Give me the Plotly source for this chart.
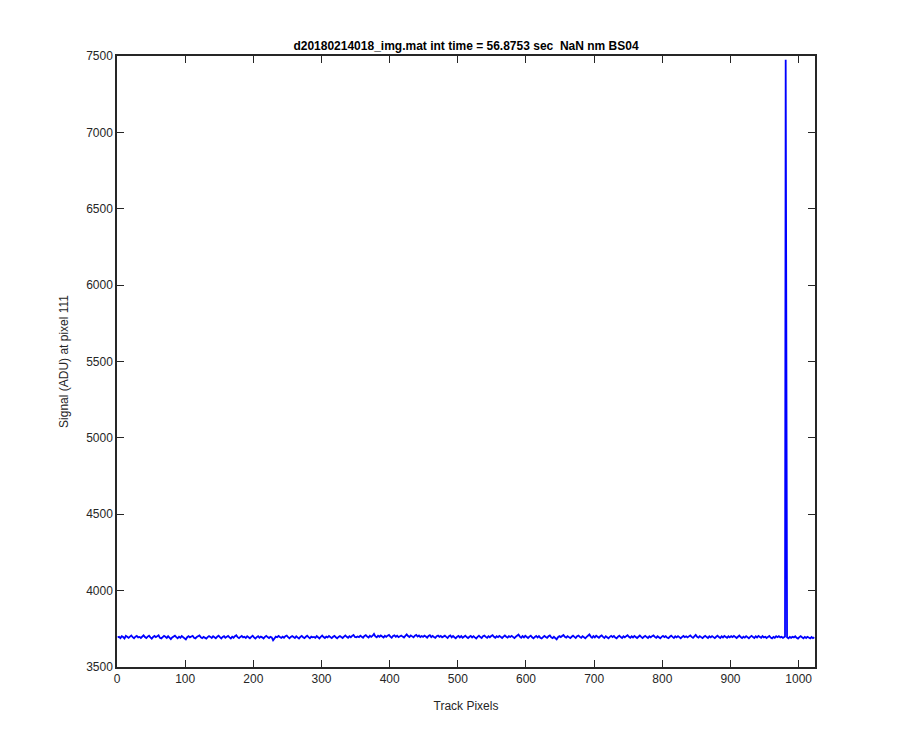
import plotly.graph_objects as go

title_text = "d20180214018_img.mat int time = 56.8753 sec  NaN nm BS04"
x_label = "Track Pixels"
y_label = "Signal (ADU) at pixel 111"

# track pixel positions (every other pixel, full resolution around the spike)
track_pixels = list(range(1, 979, 2)) + [979, 980, 981, 982, 983] + list(range(985, 1024, 2))

signal_adu = [
    3694,3698,3689,3702,3696,3687,3704,3697,3691,3699,3706,3695,3688,3698,3703,3694,
    3697,3690,3700,3707,3696,3689,3699,3705,3694,3686,3697,3703,3695,3699,3708,3691,
    3687,3696,3704,3698,3690,3702,3695,3683,3694,3699,3705,3696,3688,3698,3691,3703,
    3697,3689,3681,3695,3702,3694,3698,3704,3691,3687,3696,3699,3706,3695,3689,3697,
    3691,3686,3696,3703,3697,3690,3701,3694,3688,3698,3705,3695,3687,3697,3702,3691,
    3696,3704,3694,3687,3698,3691,3702,3708,3695,3689,3697,3703,3694,3698,3690,3701,
    3695,3688,3697,3705,3694,3686,3696,3702,3691,3699,3694,3687,3697,3704,3696,3689,
    3698,3694,3675,3688,3699,3695,3703,3696,3690,3698,3691,3702,3706,3695,3688,3697,
    3703,3696,3690,3701,3694,3686,3697,3704,3695,3689,3698,3705,3696,3688,3699,3694,
    3697,3691,3702,3695,3687,3698,3706,3696,3690,3699,3694,3703,3697,3689,3698,3704,
    3695,3688,3697,3703,3696,3690,3699,3707,3698,3691,3702,3695,3704,3710,3697,3694,
    3700,3696,3705,3698,3692,3703,3708,3699,3693,3704,3697,3705,3717,3700,3694,3705,
    3698,3706,3699,3693,3704,3697,3705,3710,3699,3692,3703,3707,3698,3705,3695,3702,
    3706,3699,3693,3704,3714,3703,3696,3707,3700,3694,3705,3710,3699,3706,3696,3703,
    3697,3705,3699,3692,3703,3708,3696,3704,3697,3691,3702,3706,3697,3703,3694,3699,
    3705,3697,3690,3701,3706,3694,3703,3695,3688,3698,3704,3694,3702,3692,3698,3705,
    3696,3689,3698,3704,3693,3702,3694,3687,3697,3705,3696,3690,3701,3706,3697,3691,
    3702,3695,3703,3708,3698,3691,3701,3695,3704,3697,3690,3699,3706,3698,3692,3702,
    3697,3704,3694,3689,3698,3705,3712,3699,3692,3702,3694,3704,3697,3690,3699,3705,
    3694,3688,3697,3703,3693,3702,3692,3687,3696,3704,3697,3691,3701,3706,3694,3689,
    3698,3691,3681,3695,3702,3696,3705,3710,3698,3692,3702,3695,3689,3698,3705,3697,
    3690,3701,3706,3697,3691,3702,3695,3688,3697,3704,3713,3699,3692,3702,3694,3705,
    3698,3691,3701,3707,3697,3690,3701,3694,3688,3697,3704,3696,3703,3693,3688,3698,
    3705,3696,3690,3701,3694,3702,3708,3698,3691,3701,3693,3703,3697,3690,3698,3706,
    3697,3689,3698,3704,3696,3690,3701,3694,3702,3707,3697,3691,3701,3693,3688,3697,
    3704,3696,3702,3693,3689,3698,3705,3697,3690,3701,3694,3702,3696,3688,3697,3703,
    3695,3701,3694,3702,3707,3697,3691,3701,3710,3698,3692,3702,3696,3689,3698,3704,
    3696,3690,3701,3694,3702,3697,3689,3698,3705,3696,3690,3701,3693,3703,3697,3691,
    3701,3694,3702,3696,3704,3697,3690,3698,3706,3696,3689,3698,3692,3702,3695,3688,
    3697,3704,3696,3690,3701,3693,3703,3697,3691,3702,3694,3698,3690,3697,3703,3693,
    3688,3697,3691,3701,3695,3702,3694,3698,3690,3696,3699,7475,3701,3694,3688,3697,3691,3698,
    3694,3701,3691,3686,3696,3702,3694,3688,3697,3690,3698,3694,3687,3696,3689,3695,
]

x_ticks = [0, 100, 200, 300, 400, 500, 600, 700, 800, 900, 1000]
y_ticks = [3500, 4000, 4500, 5000, 5500, 6000, 6500, 7000, 7500]

axis_color = "#262626"
font_family = "Liberation Sans, Arial, sans-serif"

fig = go.Figure()
fig.add_trace(go.Scatter(
    x=track_pixels, y=signal_adu, mode="lines",
    line=dict(color="#0000ff", width=1.8),
    showlegend=False,
))

fig.update_layout(
    width=900, height=750,
    paper_bgcolor="white", plot_bgcolor="white",
    margin=dict(l=109, r=93, t=48, b=91),
    font=dict(family=font_family, size=12, color=axis_color),
    title=dict(
        text="<b>" + title_text + "</b>",
        x=0.5, xref="paper", xanchor="center",
        y=1, yref="paper", yanchor="bottom", pad=dict(b=6),
        font=dict(family=font_family, size=12, color="black"),
    ),
)

common_axis = dict(
    showline=True, linecolor=axis_color, linewidth=1.5, mirror="ticks",
    ticks="inside", ticklen=7, tickwidth=1, tickcolor=axis_color,
    showgrid=False, zeroline=False,
    tickfont=dict(family=font_family, size=12, color=axis_color),
)

fig.update_xaxes(
    range=[0, 1024], tickvals=x_ticks, ticktext=[str(v) for v in x_ticks],
    title=dict(text=x_label, standoff=16, font=dict(size=12, color=axis_color)),
    **common_axis,
)
fig.update_yaxes(
    range=[3500, 7500], tickvals=y_ticks, ticktext=[str(v) for v in y_ticks],
    title=dict(text=y_label, standoff=15, font=dict(size=12, color=axis_color)),
    **common_axis,
)

fig.write_html("out.html")
